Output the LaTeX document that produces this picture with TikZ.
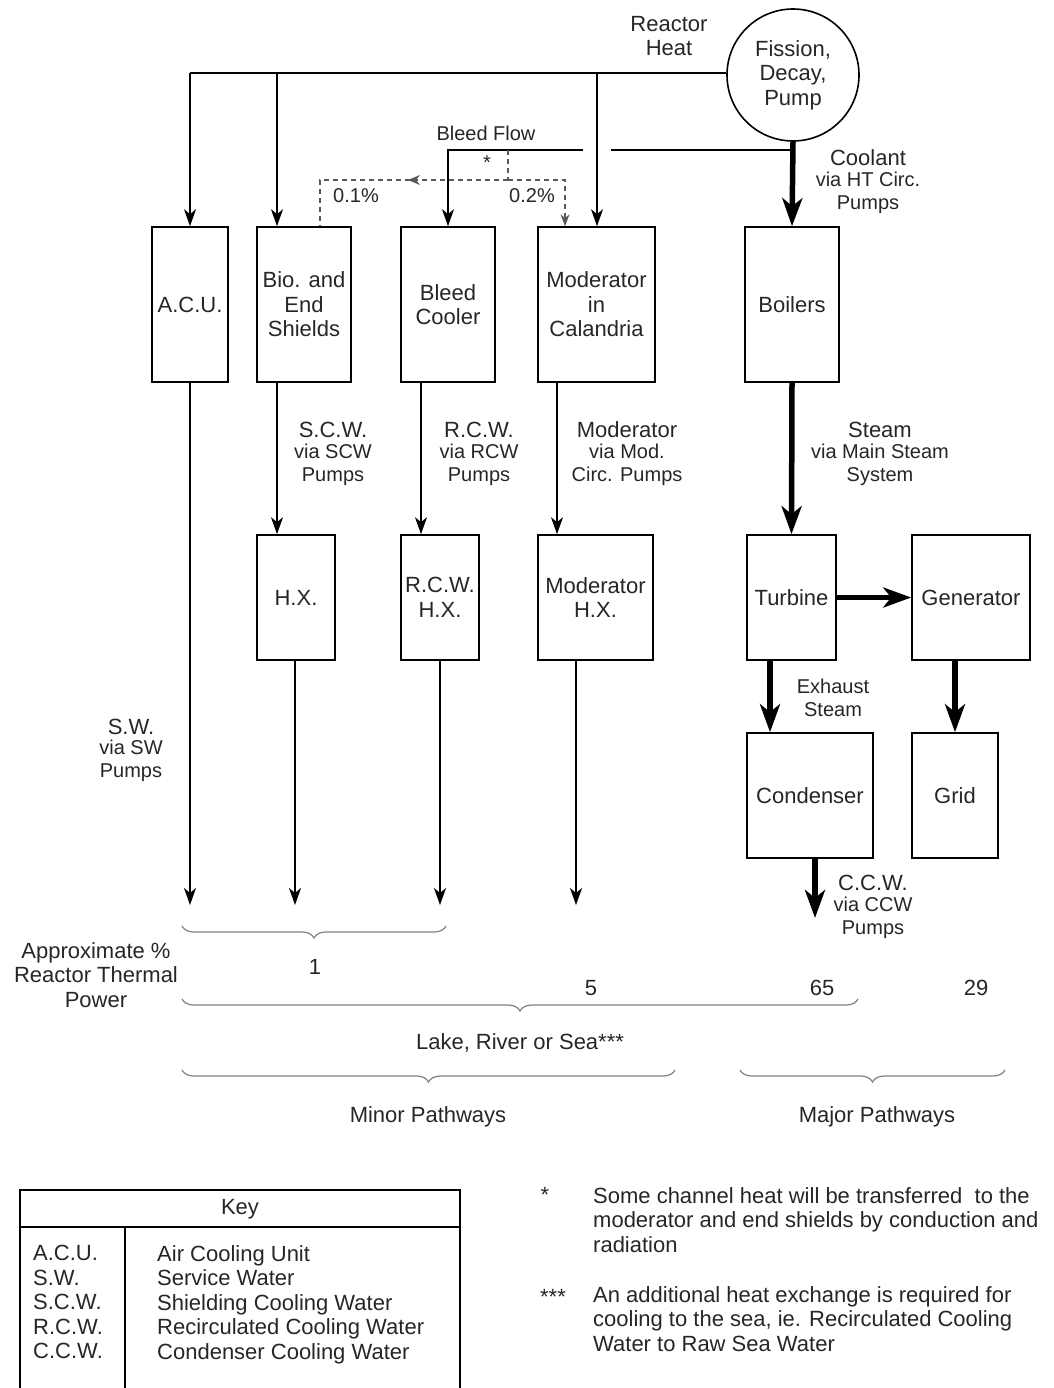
\documentclass[tikz,border=0pt]{standalone}
\usepackage{fontspec}
\setmainfont{Liberation Sans}
\usetikzlibrary{arrows.meta,decorations.pathreplacing}
\newcommand{\lgf}{\fontsize{22}{24.5}\selectfont}
\newcommand{\smf}{\fontsize{20}{23}\selectfont}
\begin{document}
\begin{tikzpicture}[x=1pt,y=-1pt,
  every node/.style={text=black!85},
  box/.style={draw=black, line width=1.6pt, align=center, inner sep=0pt, font=\lgf},
  lbl/.style={align=center, inner sep=0pt, font=\lgf},
  slbl/.style={align=center, inner sep=0pt, font=\smf},
  thin/.style={line width=1.6pt, draw=black},
  arr/.style={thin, -{Stealth[length=17pt,width=12pt,inset=5pt]}},
  thick/.style={line width=5.5pt, draw=black, -{Stealth[length=28pt,width=20pt,inset=8pt]}},
  dsh/.style={line width=1.3pt, draw=black!65, dashed, dash pattern=on 5pt off 4pt},
  gbrace/.style={decorate, decoration={brace, mirror, amplitude=12pt}, draw=black!50, line width=1.2pt},
]
\useasboundingbox (0,0) rectangle (1053,1388);

% reactor
\node[draw=black, line width=1.6pt, circle, minimum size=132pt, inner sep=0pt, align=center, font=\lgf] (reactor) at (793,75) {Fission,\\Decay,\\Pump};
\node[lbl] (rh) at (669,36) {Reactor\\Heat};

% row 1 boxes
\node[box, minimum width=76pt, minimum height=155pt] (acu) at (190,304.5) {A.C.U.};
\node[box, minimum width=94pt, minimum height=155pt] (bio) at (304,304.5) {Bio. and\\End\\Shields};
\node[box, minimum width=94pt, minimum height=155pt] (bleed) at (448,304.5) {Bleed\\Cooler};
\node[box, minimum width=117pt, minimum height=155pt] (mod) at (596.5,304.5) {Moderator\\in\\Calandria};
\node[box, minimum width=94pt, minimum height=155pt] (boil) at (792,304.5) {Boilers};

% row 2 boxes
\node[box, minimum width=78pt, minimum height=125pt] (hx) at (296,597.5) {H.X.};
\node[box, minimum width=78pt, minimum height=125pt] (rcw) at (440,597.5) {R.C.W.\\H.X.};
\node[box, minimum width=115pt, minimum height=125pt] (modhx) at (595.5,597.5) {Moderator\\H.X.};
\node[box, minimum width=89pt, minimum height=125pt] (turb) at (791.5,597.5) {Turbine};
\node[box, minimum width=118pt, minimum height=125pt] (gen) at (971,597.5) {Generator};

% row 3 boxes
\node[box, minimum width=126pt, minimum height=125pt] (cond) at (810,795.5) {Condenser};
\node[box, minimum width=86pt, minimum height=125pt] (grid) at (955,795.5) {Grid};

% top bus
\coordinate (bus) at (reactor.west |- 0,73);
\draw[thin] (bus) -- (acu.north |- bus);
\draw[arr] (acu.north |- bus) -- (acu.north);
\draw[arr] ([xshift=-27pt]bio.north |- bus) -- ([xshift=-27pt]bio.north);
\draw[arr] ([xshift=0.5pt]mod.north |- bus) -- ([xshift=0.5pt]mod.north);

% coolant
\draw[thick] (reactor.south) -- (boil.north);
\node[lbl] (cool) at (868,158) {Coolant};
\node[slbl] (coolb) at (868,193) {via HT Circ.\\Pumps};

% bleed flow
\coordinate (bj) at (reactor.south |- 0,150);
\draw[thin] (bj) -- ([xshift=14pt]mod.north |- bj);
\draw[arr] ([xshift=-14pt]mod.north |- bj) -- (bleed.north |- bj) -- (bleed.north);
\node[slbl] (bf) at (486,133) {Bleed Flow};
\coordinate (dtop) at (508,150);
\coordinate (dj) at (508,180);
\draw[dsh] (dtop) -- (dj);
\draw[dsh, -{Stealth[length=12pt,width=10pt,inset=4pt]}] (dj) -- (408,180);
\draw[dsh] (410,180) -- ([xshift=16pt]bio.north |- dj) -- ([xshift=16pt]bio.north);
\draw[dsh, -{Stealth[length=12pt,width=9pt,inset=4pt]}] (dj) -- ([xshift=-31.5pt]mod.north |- dj) -- ([xshift=-31.5pt]mod.north);
\node[slbl] (star) at (487,163) {*};
\node[slbl] (p1) at (356,196) {0.1\%};
\node[slbl] (p2) at (532,196) {0.2\%};

% row1 -> row2
\draw[arr] ([xshift=-27pt]bio.south) -- ([xshift=-19pt]hx.north);
\node[lbl] (scw1) at (333,430) {S.C.W.};
\node[slbl] (scw2) at (333,465) {via SCW\\Pumps};
\draw[arr] ([xshift=-27pt]bleed.south) -- ([xshift=-19pt]rcw.north);
\node[lbl] (rcw1) at (479,430) {R.C.W.};
\node[slbl] (rcw2) at (479,465) {via RCW\\Pumps};
\draw[arr] ([xshift=-39.5pt]mod.south) -- ([xshift=-38.5pt]modhx.north);
\node[lbl] (mod1) at (627,430) {Moderator};
\node[slbl] (mod2) at (627,465) {via Mod.\\Circ. Pumps};
\draw[thick] (boil.south) -- (turb.north);
\node[lbl] (st1) at (880,430) {Steam};
\node[slbl] (st2) at (880,465) {via Main Steam\\System};

% outflows
\coordinate (bot) at (0,905);
\draw[arr] (acu.south) -- (acu.south |- bot);
\node[lbl] (sw1) at (131,727) {S.W.};
\node[slbl] (sw2) at (131,761) {via SW\\Pumps};
\draw[arr] ([xshift=-1pt]hx.south) -- ([xshift=-1pt]hx.south |- bot);
\draw[arr] (rcw.south) -- (rcw.south |- bot);
\draw[arr] ([xshift=-19.5pt]modhx.south) -- ([xshift=-19.5pt]modhx.south |- bot);

\draw[thick] (turb.east) -- (gen.west);
\draw[thick] ([xshift=-21.5pt]turb.south) -- ([xshift=-21.5pt]turb.south |- cond.north);
\node[slbl] (ex) at (833,698) {Exhaust\\Steam};
\draw[thick] ([xshift=-16pt]gen.south) -- (grid.north);
\coordinate (ccwend) at (815,918);
\draw[thick] (cond.south -| ccwend) -- (ccwend);
\node[lbl] (ccw1) at (873,883) {C.C.W.};
\node[slbl] (ccw2) at (873,918) {via CCW\\Pumps};

% braces and values
\draw[gbrace] (182,926) -- (446,926);
\node[lbl] (v1) at (315,967) {1};
\node[lbl] (atp) at (96,975) {Approximate \%\\Reactor Thermal\\Power};
\node[lbl] (v5) at (591,988) {5};
\node[lbl] (v65) at (822,988) {65};
\node[lbl] (v29) at (976,988) {29};
\draw[gbrace] (182,999) -- (858,999);
\node[lbl] (lake) at (520,1043) {Lake, River or Sea***};
\draw[gbrace] (182,1070) -- (675,1070);
\node[lbl] (minor) at (428,1117) {Minor Pathways};
\draw[gbrace] (740,1070) -- (1005,1070);
\node[lbl] (major) at (877,1117) {Major Pathways};

% key table
\draw[thin] (20,1388) -- (20,1190) -- (460,1190) -- (460,1388);
\draw[thin] (20,1227) -- (460,1227);
\draw[thin] (125,1227) -- (125,1388);
\node[lbl] (key) at (240,1209) {Key};
\node[lbl, anchor=north west, align=left, font=\fontsize{22}{24.6}\selectfont] (abbr) at (33,1245) {A.C.U.\\S.W.\\S.C.W.\\R.C.W.\\C.C.W.};
\node[lbl, anchor=north west, align=left, font=\fontsize{22}{24.6}\selectfont] (defs) at (157,1245) {Air Cooling Unit\\Service Water\\Shielding Cooling Water\\Recirculated Cooling Water\\Condenser Cooling Water};

% notes
\node[lbl] (n1s) at (545,1195) {*};
\node[lbl, anchor=north west, align=left, font=\fontsize{22}{24.6}\selectfont] (n1) at (593,1187) {Some channel heat will be transferred\ \ to the\\moderator and end shields by conduction and\\radiation};
\node[lbl] (n2s) at (553,1297) {***};
\node[lbl, anchor=north west, align=left, font=\fontsize{22}{24.6}\selectfont] (n2) at (593,1286) {An additional heat exchange is required for\\cooling to the sea, ie. Recirculated Cooling\\Water to Raw Sea Water};
\end{tikzpicture}
\end{document}
